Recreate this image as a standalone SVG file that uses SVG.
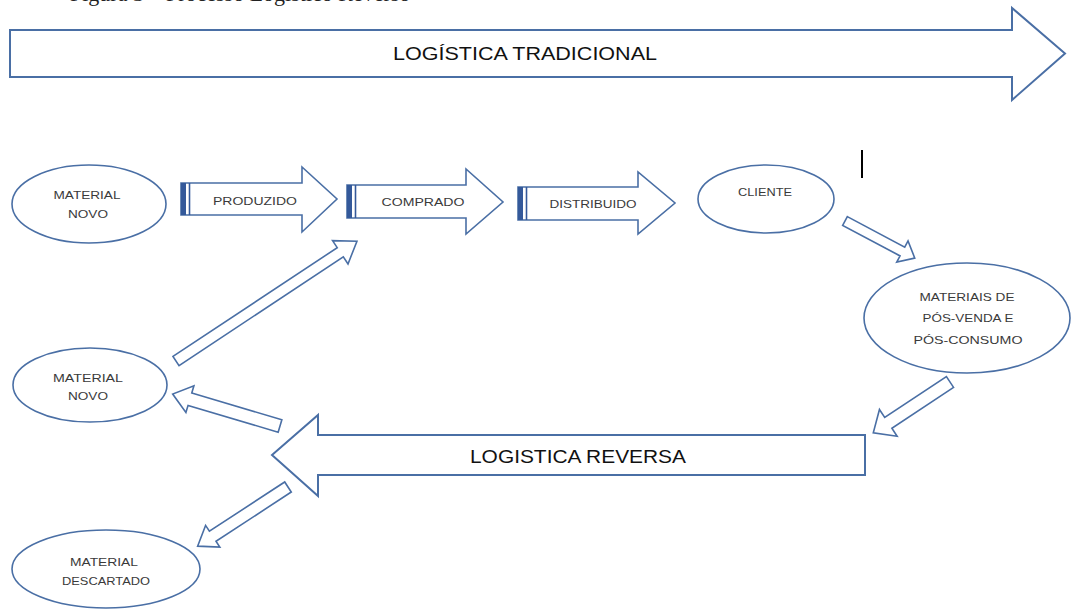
<svg xmlns="http://www.w3.org/2000/svg" width="1072" height="609" viewBox="0 0 1072 609">
<style>
.shape{fill:#ffffff;stroke:#4a6fa5;stroke-width:1.6;stroke-linejoin:miter}
.big{fill:#ffffff;stroke:#4a6fa5;stroke-width:2}
.stripe{fill:#34599a}
.stripeline{stroke:#34599a;stroke-width:1.6}
.lbl{font-family:"Liberation Sans",Arial,sans-serif;font-size:11px;fill:#3a3a3a;text-anchor:middle}
.biglbl{font-family:"Liberation Sans",Arial,sans-serif;font-size:18px;fill:#111111;text-anchor:middle}
.cap{font-family:"Liberation Serif","Times New Roman",serif;font-size:22px;fill:#222222}
</style>
<rect width="1072" height="609" fill="#ffffff"/>
<text class="cap" x="70" y="1">Figura 3 – Processo Logístico Reverso</text>

<g id="logistica-tradicional">
<path class="big" d="M10,30 L1012,30 L1012,8 L1065,53.5 L1012,100 L1012,77 L10,77 Z"/>
<text class="biglbl" x="525" y="60" textLength="264" lengthAdjust="spacingAndGlyphs">LOGÍSTICA TRADICIONAL</text>
</g>

<g id="material-novo-1">
<ellipse class="shape" cx="89" cy="204" rx="77" ry="39"/>
<text class="lbl" x="87" y="199" textLength="67" lengthAdjust="spacingAndGlyphs">MATERIAL</text>
<text class="lbl" x="88" y="218" textLength="40" lengthAdjust="spacingAndGlyphs">NOVO</text>
</g>

<g id="produzido">
<path class="shape" d="M181,183 L302,183 L302,167 L337,199 L302,232 L302,215 L181,215 Z"/>
<rect class="stripe" x="181" y="183" width="5" height="32"/>
<line class="stripeline" x1="189.5" y1="183" x2="189.5" y2="215"/>
<text class="lbl" x="255" y="205" textLength="84" lengthAdjust="spacingAndGlyphs">PRODUZIDO</text>
</g>

<g id="comprado">
<path class="shape" d="M347,185 L466,185 L466,169 L503,202 L466,234 L466,218 L347,218 Z"/>
<rect class="stripe" x="347" y="185" width="5" height="33"/>
<line class="stripeline" x1="355.5" y1="185" x2="355.5" y2="218"/>
<text class="lbl" x="423" y="206" textLength="83" lengthAdjust="spacingAndGlyphs">COMPRADO</text>
</g>

<g id="distribuido">
<path class="shape" d="M518,187 L638,187 L638,172 L675,203 L638,234 L638,220 L518,220 Z"/>
<rect class="stripe" x="518" y="187" width="5" height="33"/>
<line class="stripeline" x1="526.5" y1="187" x2="526.5" y2="220"/>
<text class="lbl" x="593" y="208" textLength="87" lengthAdjust="spacingAndGlyphs">DISTRIBUIDO</text>
</g>

<g id="cliente">
<ellipse class="shape" cx="766" cy="199" rx="68" ry="34"/>
<text class="lbl" x="765" y="196" textLength="54" lengthAdjust="spacingAndGlyphs">CLIENTE</text>
</g>

<g id="cursor">
<rect x="861" y="150" width="2" height="28" fill="#000000"/>
</g>

<g id="materiais-pos">
<ellipse class="shape" cx="967" cy="318" rx="103" ry="55"/>
<text class="lbl" x="967" y="301" textLength="95" lengthAdjust="spacingAndGlyphs">MATERIAIS DE</text>
<text class="lbl" x="968" y="322" textLength="91" lengthAdjust="spacingAndGlyphs">PÓS-VENDA E</text>
<text class="lbl" x="968" y="344" textLength="109" lengthAdjust="spacingAndGlyphs">PÓS-CONSUMO</text>
</g>

<g id="material-novo-2">
<ellipse class="shape" cx="90" cy="385" rx="77" ry="37"/>
<text class="lbl" x="88" y="382" textLength="70" lengthAdjust="spacingAndGlyphs">MATERIAL</text>
<text class="lbl" x="88" y="400" textLength="40" lengthAdjust="spacingAndGlyphs">NOVO</text>
</g>

<g id="logistica-reversa">
<path class="big" d="M865,435 L318,435 L318,415 L272,455 L318,496 L318,475 L865,475 Z"/>
<text class="biglbl" x="578" y="463" textLength="216" lengthAdjust="spacingAndGlyphs">LOGISTICA REVERSA</text>
</g>

<g id="material-descartado">
<ellipse class="shape" cx="106" cy="569" rx="94" ry="39"/>
<text class="lbl" x="104" y="566" textLength="68" lengthAdjust="spacingAndGlyphs">MATERIAL</text>
<text class="lbl" x="106" y="585" textLength="88" lengthAdjust="spacingAndGlyphs">DESCARTADO</text>
</g>

<g id="connectors">
<path class="shape" transform="translate(845,221) rotate(28)" d="M0,-5 L65,-5 L65,-12 L79,0 L65,12 L65,5 L0,5 Z"/>
<path class="shape" transform="translate(950,382) rotate(146.5)" d="M0,-6.5 L74,-6.5 L74,-16 L92,0 L74,16 L74,6.5 L0,6.5 Z"/>
<path class="shape" transform="translate(280,426) rotate(196.6)" d="M0,-6.5 L94,-6.5 L94,-14 L112,0 L94,14 L94,6.5 L0,6.5 Z"/>
<path class="shape" transform="translate(288,487) rotate(146.8)" d="M0,-6 L90,-6 L90,-13 L108,0 L90,13 L90,6 L0,6 Z"/>
<path class="shape" transform="translate(176,361) rotate(-33.5)" d="M0,-5.5 L197,-5.5 L197,-14 L217,0 L197,14 L197,5.5 L0,5.5 Z"/>
</g>
</svg>
